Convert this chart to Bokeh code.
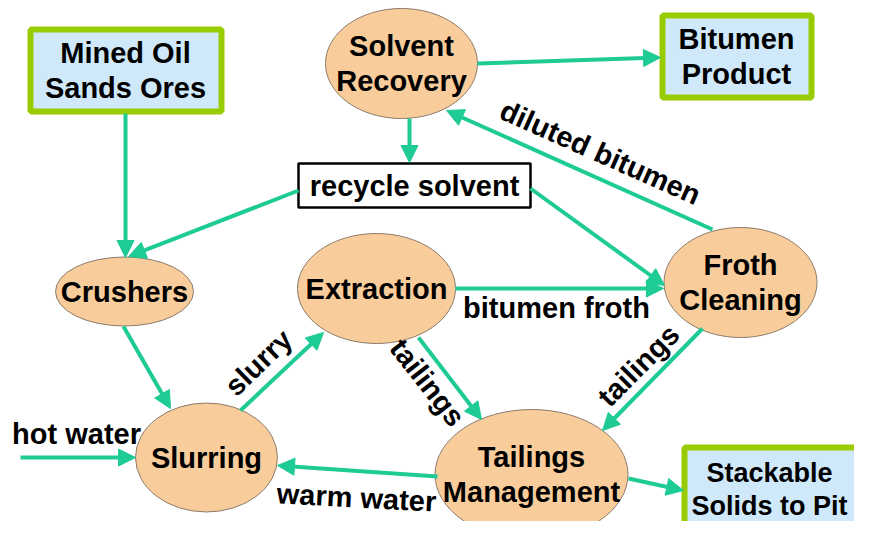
from bokeh.plotting import figure
from bokeh.models import Range1d, Arrow, NormalHead, ColumnDataSource
from bokeh.core.properties import value
from bokeh.embed import file_html
from bokeh.resources import INLINE

FONT = "Liberation Sans"
TEAL = "#1ecb95"

# Process nodes (ellipses)
ell_labels = ["Solvent\nRecovery", "Crushers", "Extraction", "Froth\nCleaning", "Slurring", "Tailings\nManagement"]
ell_x = [401, 124, 376, 740, 206, 531]
ell_y = [63, 291, 288, 282, 457, 474]
ell_w = [152, 138, 158, 153, 142, 193]
ell_h = [110, 69, 110, 110, 109, 130]

# Input / output boxes
box_labels = ["Mined Oil\nSands Ores", "Bitumen\nProduct", "Stackable\nSolids to Pit"]
box_left = [30, 662, 684]
box_right = [221, 811, 876]
box_top = [29, 15, 447]
box_bottom = [111, 97, 530]
box_text_x = [125, 736, 769]
box_text_size = ["29px", "29px", "27px"]

# recycle solvent box
rec_label = ["recycle solvent"]
rec_left, rec_right, rec_top, rec_bottom = [298], [530], [163], [207]

# Flows (arrows)
e_x0 = [125, 298, 409, 477, 530, 712, 455, 123, 20, 240, 418, 702, 437, 628]
e_y0 = [113, 190, 118, 63, 188, 229, 288, 326, 457, 410, 337, 328, 476, 478]
e_x1 = [125, 128, 409, 660, 664, 446, 663, 170, 135, 323, 481, 602, 277, 683]
e_y1 = [257, 256, 162, 57, 285, 110, 288, 408, 457, 332, 419, 430, 465, 490]

# Flow labels
f_labels = ["diluted bitumen", "bitumen froth", "slurry", "tailings", "tailings", "warm water", "hot water"]
f_x = [600, 556, 258, 427, 638, 356, 76]
f_y = [152, 307, 362, 382, 365, 497, 433]
f_angle = [-24, 0, 44, -52, 45, -3, 0]

p = figure(width=854, height=521, x_range=Range1d(0, 854), y_range=Range1d(521, 0),
           output_backend="svg", toolbar_location=None, min_border=0,
           background_fill_color="white", border_fill_color="white")
p.axis.visible = False
p.grid.visible = False
p.outline_line_color = None

# arrows
for x0, y0, x1, y1 in zip(e_x0, e_y0, e_x1, e_y1):
    p.add_layout(Arrow(x_start=x0, y_start=y0, x_end=x1, y_end=y1,
                       line_color=TEAL, line_width=4,
                       end=NormalHead(size=17, fill_color=TEAL, line_color=TEAL, line_width=1)))

# boxes
bsrc = ColumnDataSource(dict(l=box_left, r=box_right, t=box_top, b=box_bottom, label=box_labels,
                             cx=box_text_x, fs=box_text_size,
                             cy=[(a + b) / 2 for a, b in zip(box_top, box_bottom)]))
p.quad(left="l", right="r", top="t", bottom="b", source=bsrc,
       fill_color="#cfe9fb", line_color="#99cc00", line_width=6)
p.text(x="cx", y="cy", text="label", source=bsrc, text_font=value(FONT), text_font_style="bold",
       text_font_size="fs", text_align="center", text_baseline="middle", text_color="black",
       text_line_height=1.1)

# recycle box
p.quad(left=rec_left, right=rec_right, top=rec_top, bottom=rec_bottom,
       fill_color="white", line_color="black", line_width=2.5)
p.text(x=[(rec_left[0] + rec_right[0]) / 2], y=[(rec_top[0] + rec_bottom[0]) / 2], text=rec_label,
       text_font=value(FONT), text_font_style="bold", text_font_size="29px",
       text_align="center", text_baseline="middle", text_color="black")

# ellipses
esrc = ColumnDataSource(dict(x=ell_x, y=ell_y, w=ell_w, h=ell_h, label=ell_labels))
p.ellipse(x="x", y="y", width="w", height="h", source=esrc,
          fill_color="#f9cc9b", line_color="#8c7b6b", line_width=1)
p.text(x="x", y="y", text="label", source=esrc, text_font=value(FONT), text_font_style="bold",
       text_font_size="29px", text_align="center", text_baseline="middle", text_color="black",
       text_line_height=1.1)

# flow labels
fsrc = ColumnDataSource(dict(x=f_x, y=f_y, label=f_labels, a=f_angle))
p.text(x="x", y="y", text="label", angle="a", angle_units="deg", source=fsrc,
       text_font=value(FONT), text_font_style="bold", text_font_size="29px",
       text_align="center", text_baseline="middle", text_color="black")

open("out.html", "w").write(file_html(p, INLINE))
